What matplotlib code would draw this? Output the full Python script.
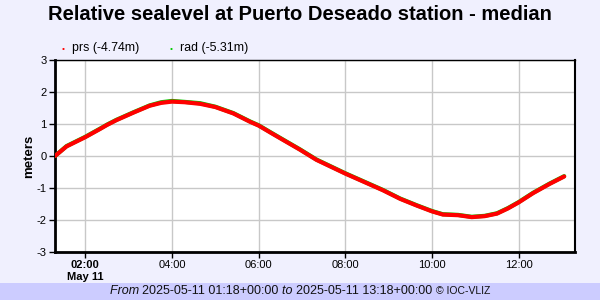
import matplotlib
matplotlib.use("Agg")
import matplotlib.pyplot as plt
from matplotlib.patches import Rectangle
import datetime as dt

plt.rcParams['font.family'] = ['Liberation Sans', 'DejaVu Sans']

title = "Relative sealevel at Puerto Deseado station - median"
times = ["01:18", "01:34", "02:00", "02:20", "02:30", "02:43", "03:07", "03:29", "03:45",
         "04:00", "04:18", "04:39", "05:00", "05:25", "05:48", "06:00", "06:18", "06:34",
         "06:57", "07:20", "08:00", "08:29", "08:52", "09:16", "09:39", "10:00", "10:15",
         "10:36", "10:55", "11:13", "11:30", "11:45", "12:00", "12:20", "12:43", "13:03"]
prs = [0.00, 0.30, 0.59, 0.84, 0.97, 1.12, 1.36, 1.57, 1.66,
       1.70, 1.68, 1.63, 1.53, 1.33, 1.07, 0.95, 0.71, 0.50,
       0.20, -0.12, -0.55, -0.84, -1.07, -1.34, -1.55, -1.73, -1.83,
       -1.85, -1.91, -1.88, -1.80, -1.64, -1.45, -1.16, -0.87, -0.64]
rad = [0.00, 0.31, 0.60, 0.85, 0.98, 1.13, 1.37, 1.58, 1.68,
       1.72, 1.69, 1.65, 1.54, 1.34, 1.08, 0.96, 0.72, 0.51,
       0.21, -0.11, -0.54, -0.83, -1.06, -1.33, -1.54, -1.72, -1.82,
       -1.84, -1.90, -1.87, -1.79, -1.63, -1.44, -1.15, -0.86, -0.63]
legend_labels = ["prs (-4.74m)", "rad (-5.31m)"]
yticks = [-3, -2, -1, 0, 1, 2, 3]
xtick_labels = ["02:00", "04:00", "06:00", "08:00", "10:00", "12:00"]
day = dt.date(2025, 5, 11)

def to_dt(s):
    h, m = map(int, s.split(":"))
    return dt.datetime(day.year, day.month, day.day, h, m)

t = [to_dt(s) for s in times]
xt = [to_dt(s) for s in xtick_labels]

bg = "#F0F0FE"
fig = plt.figure(figsize=(6, 3), dpi=100, facecolor=bg)
ax = fig.add_axes([55/600, 1-252/300, 520/600, 192/300])
ax.set_facecolor("white")

ax.plot(t, rad, color="#00CC00", lw=3.0, solid_capstyle="round", solid_joinstyle="round", zorder=3)
ax.plot(t, prs, color="#FF0000", lw=3.0, solid_capstyle="round", solid_joinstyle="round", zorder=4)

ax.set_xlim(to_dt("01:18"), to_dt("13:18"))
ax.set_ylim(-3, 3)
ax.set_yticks(yticks)
ax.set_yticklabels([str(v) for v in yticks], fontsize=8)
ax.set_xticks(xt)
ax.set_xticklabels(xtick_labels, fontsize=8)
ax.get_xticklabels()[0].set_fontweight("bold")
ax.grid(True, color="#C8C8C8", lw=1)
ax.set_axisbelow(True)
ax.tick_params(axis="both", length=4, width=1, pad=2, colors="black")
for s in ["left", "bottom"]:
    ax.spines[s].set_linewidth(2)
ax.spines["right"].set_linewidth(1.5)
ax.spines["top"].set_linewidth(1)
ax.set_ylabel("")
fig.text(29/600, 1-156/300, "meters", fontsize=9.5, fontweight="bold", rotation=90,
         ha="center", va="center")

fig.text(85/600, 1-277/300, "May 11", fontsize=8, fontweight="bold", ha="center", va="center")

fig.text(0.5, 1-14/300, title, fontsize=14.5, fontweight="bold", ha="center", va="center")

# legend
fig.text(63/600, 1-49.5/300, "\u2022", color="red", fontsize=6, ha="center", va="center")
fig.text(72/600, 1-48.5/300, legend_labels[0], fontsize=8.9, ha="left", va="center")
fig.text(171/600, 1-49.5/300, "\u2022", color="#00CC00", fontsize=6, ha="center", va="center")
fig.text(180/600, 1-48.5/300, legend_labels[1], fontsize=8.9, ha="left", va="center")

# footer
fig.patches.append(Rectangle((0, 0), 1, 17/300, transform=fig.transFigure,
                             facecolor="#CCCCFF", edgecolor="none", zorder=0))
pieces = [("From ", "italic", 9), ("2025-05-11 01:18+00:00 ", "normal", 9),
          ("to ", "italic", 9), ("2025-05-11 13:18+00:00 ", "normal", 9),
          ("\u00a9 IOC-VLIZ", "normal", 7.5)]
fig.canvas.draw()
r = fig.canvas.get_renderer()
objs = []
widths = []
for txt, style, fs in pieces:
    tt = fig.text(0, 1-291.5/300, txt, fontsize=fs, style=style, ha="left", va="center", color="#111111")
    objs.append(tt)
    widths.append(tt.get_window_extent(renderer=r).width)
x = 300 - sum(widths) / 2
for tt, w in zip(objs, widths):
    tt.set_x(x/600)
    x += w

fig.savefig("out.png", dpi=100, facecolor=bg)
